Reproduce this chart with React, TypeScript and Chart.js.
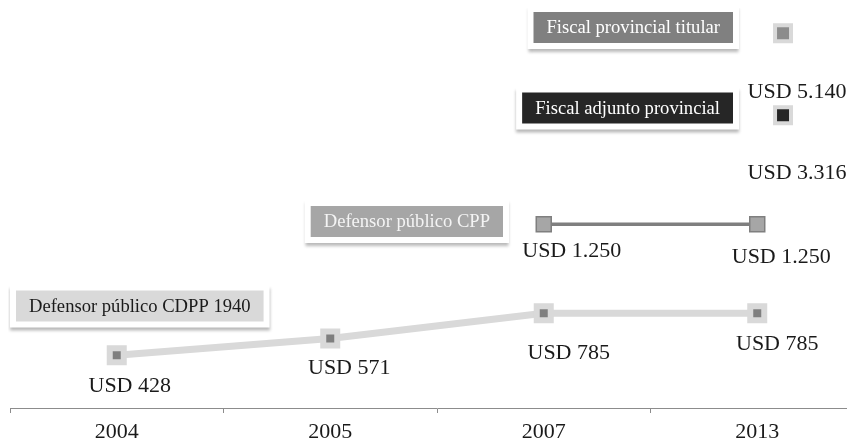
import React, { useEffect, useRef } from "react";
import { Chart, registerables } from "chart.js";

Chart.register(...registerables);

// ---- data ----
const categories = ["2004", "2005", "2007", "2013"];
const seriesNames = [
  "Defensor público CDPP 1940",
  "Defensor público CPP",
  "Fiscal adjunto provincial",
  "Fiscal provincial titular",
];
const cdpp1940 = [428, 571, 785, 785];
const cpp = [null, null, 1250, 1250];
const fiscalAdjunto = [null, null, null, 3316];
const fiscalTitular = [null, null, null, 5140];
const currencyPrefix = "USD ";

// ---- styles ----
const FONT = "'Liberation Serif', 'Times New Roman', serif";
// data label offsets (dx, dy from marker centre), per series per point
const labelOffsets: Array<Array<[number, number]>> = [
  [[13, 31], [19, 30], [25, 40], [20, 31]],
  [[0, 0], [0, 0], [28, 27], [24, 33]],
  [[0, 0], [0, 0], [0, 0], [14, 58]],
  [[0, 0], [0, 0], [0, 0], [14, 59]],
];
// name boxes in canvas coords: anchor x (right edge unless left=true), centre y
const nameBoxes = [
  { x: 8, y: 298, left: true, bg: "#d9d9d9", fg: "#1a1a1a" },
  { x: 495, y: 213.5, left: false, bg: "#a6a6a6", fg: "#f4f4f4" },
  { x: 725, y: 100, left: false, bg: "#262626", fg: "#ffffff" },
  { x: 725, y: 19.5, left: false, bg: "#808080", fg: "#ffffff" },
];

function fmt(v: number): string {
  const s = Math.round(v).toString();
  return currencyPrefix + s.replace(/\B(?=(\d{3})+(?!\d))/g, ".");
}

const toXY = (arr: Array<number | null>) =>
  arr
    .map((v, i) => (v == null ? null : { x: i, y: v }))
    .filter((p) => p !== null) as Array<{ x: number; y: number }>;

const labelPlugin = {
  id: "customLabels",
  afterDatasetsDraw(chart: any) {
    const ctx = chart.ctx as CanvasRenderingContext2D;
    ctx.save();
    // data labels
    ctx.font = `22px ${FONT}`;
    ctx.fillStyle = "#1a1a1a";
    ctx.textAlign = "center";
    ctx.textBaseline = "middle";
    chart.data.datasets.forEach((ds: any, di: number) => {
      const meta = chart.getDatasetMeta(di);
      meta.data.forEach((el: any, pi: number) => {
        const raw = ds.data[pi];
        const v = raw == null ? null : typeof raw === "object" ? raw.y : raw;
        if (v == null) return;
        const idx = typeof raw === "object" ? raw.x : pi;
        const off = labelOffsets[di][idx] || [0, 0];
        ctx.fillText(fmt(v), el.x + off[0], el.y + off[1]);
      });
    });
    // series name boxes
    ctx.font = `18.6px ${FONT}`;
    nameBoxes.forEach((b, i) => {
      const text = seriesNames[i];
      const tw = ctx.measureText(text).width;
      const bw = tw + 26;
      const bh = 31;
      const bx = b.left ? b.x : b.x - bw;
      const by = b.y - bh / 2;
      const m = 6;
      ctx.save();
      ctx.shadowColor = "rgba(0,0,0,0.28)";
      ctx.shadowBlur = 3;
      ctx.shadowOffsetY = 3;
      ctx.fillStyle = "#ffffff";
      ctx.fillRect(bx - m, by - m, bw + 2 * m, bh + 2 * m);
      ctx.restore();
      ctx.fillStyle = b.bg;
      ctx.fillRect(bx, by, bw, bh);
      ctx.fillStyle = b.fg;
      ctx.textAlign = "center";
      ctx.textBaseline = "middle";
      ctx.fillText(text, bx + bw / 2, b.y + 1);
    });
    ctx.restore();
  },
};

export default function App() {
  const ref = useRef<HTMLCanvasElement | null>(null);
  useEffect(() => {
    if (!ref.current) return;
    const chart = new Chart(ref.current, {
      type: "line",
      data: {
        labels: categories,
        datasets: [
          {
            label: seriesNames[0],
            data: cdpp1940,
            xAxisID: "x",
            yAxisID: "yA",
            borderColor: "#d9d9d9",
            borderWidth: 7,
            pointStyle: "rect",
            pointRadius: 9.9,
            pointBorderWidth: 6,
            pointBackgroundColor: "#7f7f7f",
            pointBorderColor: "#d9d9d9",
          },
          {
            label: seriesNames[1],
            data: cpp,
            xAxisID: "x",
            yAxisID: "yB",
            borderColor: "#7f7f7f",
            borderWidth: 3.5,
            pointStyle: "rect",
            pointRadius: 10.6,
            pointBorderWidth: 1.5,
            pointBackgroundColor: "#a6a6a6",
            pointBorderColor: "#7f7f7f",
          },
          {
            label: seriesNames[2],
            data: toXY(fiscalAdjunto),
            xAxisID: "x2",
            yAxisID: "yC",
            showLine: false,
            pointStyle: "rect",
            pointRadius: 11.3,
            pointBorderWidth: 4,
            pointBackgroundColor: "#262626",
            pointBorderColor: "#d9d9d9",
          },
          {
            label: seriesNames[3],
            data: toXY(fiscalTitular),
            xAxisID: "x2",
            yAxisID: "yC",
            showLine: false,
            pointStyle: "rect",
            pointRadius: 11.3,
            pointBorderWidth: 4,
            pointBackgroundColor: "#8c8c8c",
            pointBorderColor: "#d9d9d9",
          },
        ] as any,
      },
      options: {
        animation: false,
        responsive: false,
        layout: {
          autoPadding: false,
          padding: { left: 2, right: 0, top: 0, bottom: 0 },
        },
        plugins: {
          legend: { display: false },
          tooltip: { enabled: false },
        },
        scales: {
          x: {
            type: "category",
            offset: true,
            grid: {
              offset: true,
              drawOnChartArea: false,
              drawTicks: true,
              tickLength: 5,
              color: "#8c8c8c",
            },
            border: { display: true, color: "#8c8c8c", width: 1 },
            ticks: {
              font: { family: FONT, size: 22 },
              color: "#1a1a1a",
              padding: 6,
              maxRotation: 0,
            },
            afterFit: (s: any) => {
              s.height = 35;
            },
          },
          x2: {
            type: "linear",
            display: false,
            min: -0.5,
            max: 3.3666,
          },
          yA: { type: "linear", display: false, min: -20, max: 3380 },
          yB: { type: "linear", display: false, min: 0, max: 2720 },
          yC: { type: "linear", display: false, min: -3200, max: 5700 },
        },
      } as any,
      plugins: [labelPlugin],
    });
    return () => chart.destroy();
  }, []);
  return (
    <div style={{ width: 847, height: 435, overflow: "hidden" }}>
      <canvas ref={ref} width={856} height={435} style={{ display: "block" }} />
    </div>
  );
}
